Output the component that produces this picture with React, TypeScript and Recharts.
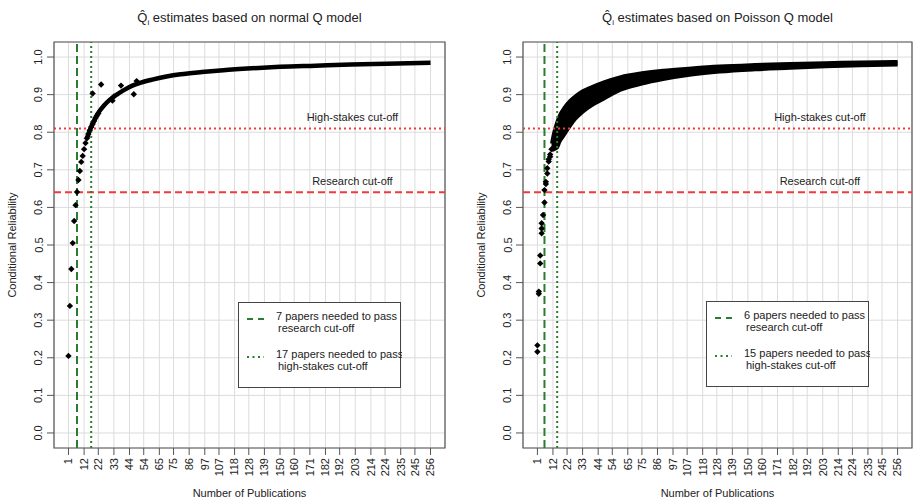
import React from 'react';
import {
  ComposedChart,
  Scatter,
  Line,
  Area,
  XAxis,
  YAxis,
  CartesianGrid,
  ReferenceLine,
  ReferenceArea,
  Legend,
} from 'recharts';

const FONT = '"Liberation Sans", Arial, Helvetica, sans-serif';
const RED = '#f23a3a';
const GREEN = '#2a7d2e';
const INK = '#222';
const FRAME = '#555';

// axes
const pubTicks = [1, 12, 22, 33, 44, 54, 65, 75, 86, 97, 107, 118, 128, 139, 150, 160, 171, 182, 192, 203, 214, 224, 235, 245, 256];
const relTicks = [0, 0.1, 0.2, 0.3, 0.4, 0.5, 0.6, 0.7, 0.8, 0.9, 1.0];
const X_MIN = -9.2;
const X_MAX = 266.2;
const Y_MIN = -0.04;
const Y_MAX = 1.04;

// cut-offs
const researchCut = 0.64;
const highStakesCut = 0.81;

// normal Q model
const normalPtN = [1, 2, 3, 4, 5, 6, 7, 8, 9, 10, 11, 12, 13, 14, 15, 16, 17, 18, 19, 20, 21, 22];
const normalPtQ = [0.205, 0.338, 0.436, 0.505, 0.564, 0.606, 0.641, 0.673, 0.697, 0.721, 0.737, 0.755, 0.771, 0.784, 0.795, 0.805, 0.814, 0.822, 0.83, 0.838, 0.844, 0.85];
const normalLineN = [14, 16, 18, 20, 23, 26, 30, 35, 40, 46, 52, 60, 70, 80, 95, 110, 130, 150, 175, 200, 225, 256];
const normalLineQ = [0.784, 0.805, 0.822, 0.838, 0.857, 0.871, 0.886, 0.9, 0.912, 0.924, 0.932, 0.94, 0.948, 0.954, 0.96, 0.965, 0.97, 0.974, 0.977, 0.98, 0.982, 0.985];
const normalOddN = [18, 24, 31, 32, 33, 38, 47, 49];
const normalOddQ = [0.903, 0.927, 0.888, 0.884, 0.895, 0.924, 0.901, 0.936];
const normalNeeded = [7, 17];

// Poisson Q model
const poissonPtN = [1, 1, 2, 2, 3, 3, 4, 4, 4, 5, 6, 6, 7, 7, 8, 8, 9, 9, 10, 10, 11, 44, 45];
const poissonPtQ = [0.216, 0.233, 0.37, 0.376, 0.451, 0.472, 0.531, 0.544, 0.558, 0.58, 0.613, 0.646, 0.662, 0.668, 0.69, 0.704, 0.722, 0.728, 0.735, 0.741, 0.755, 0.899, 0.903];
const poissonBandN = [11, 12, 13, 15, 17, 20, 24, 28, 33, 40, 48, 60, 75, 90, 110, 130, 155, 180, 205, 230, 256];
const poissonLow = [0.755, 0.752, 0.754, 0.758, 0.775, 0.792, 0.815, 0.835, 0.853, 0.872, 0.888, 0.912, 0.928, 0.94, 0.952, 0.96, 0.966, 0.97, 0.974, 0.977, 0.979];
const poissonHigh = [0.77, 0.79, 0.805, 0.83, 0.848, 0.866, 0.884, 0.897, 0.91, 0.922, 0.934, 0.948, 0.958, 0.965, 0.971, 0.976, 0.98, 0.983, 0.985, 0.987, 0.988];
const poissonNeeded = [6, 15];

const toPts = (ns: number[], qs: number[]) => ns.map((n, i) => ({ n, q: qs[i] }));

const Diamond = (props: any) => {
  const { cx, cy } = props;
  if (cx == null || cy == null) return null;
  const r = 3.2;
  return <polygon points={`${cx},${cy - r} ${cx + r},${cy} ${cx},${cy + r} ${cx - r},${cy}`} fill="#000" />;
};

const XTick = ({ x, y, payload }: any) => (
  <text
    x={x}
    y={y + 1}
    transform={`rotate(-90 ${x} ${y + 1})`}
    textAnchor="end"
    dy="0.35em"
    fontSize={11}
    fontFamily={FONT}
    fill={INK}
  >
    {payload.value}
  </text>
);

const YTick = ({ x, y, payload }: any) => (
  <text
    x={x - 2.5}
    y={y}
    transform={`rotate(-90 ${x - 2.5} ${y})`}
    textAnchor="middle"
    fontSize={11}
    fontFamily={FONT}
    fill={INK}
  >
    {Number(payload.value).toFixed(1)}
  </text>
);

const XLabel = ({ viewBox }: any) => (
  <text x={viewBox.x + viewBox.width / 2} y={viewBox.y + 49} textAnchor="middle" fontSize={11} fontFamily={FONT} fill={INK}>
    Number of Publications
  </text>
);

const YLabel = ({ viewBox }: any) => {
  const x = viewBox.x + viewBox.width - 38;
  const y = viewBox.y + viewBox.height / 2;
  return (
    <text x={x} y={y} transform={`rotate(-90 ${x} ${y})`} textAnchor="middle" fontSize={11} fontFamily={FONT} fill={INK}>
      Conditional Reliability
    </text>
  );
};

// cut-off text sits centred at n = 201, a little above its line
const CutLabel = ({ viewBox, text }: any) => {
  const x = viewBox.x + (viewBox.width * (201 - X_MIN)) / (X_MAX - X_MIN);
  return (
    <text x={x} y={viewBox.y - 7} textAnchor="middle" fontSize={11} fontFamily={FONT} fill={INK}>
      {text}
    </text>
  );
};

const LegendBox = ({ needed }: { needed: number[] }) => (
  <svg width={164} height={87} style={{ display: 'block' }}>
    <rect x={0.5} y={0.5} width={162} height={85} fill="#fff" stroke="#444" />
    <line x1={9} x2={26} y1={17} y2={17} stroke={GREEN} strokeWidth={2} strokeDasharray="6 5" />
    <line x1={9} x2={26} y1={55} y2={55} stroke={GREEN} strokeWidth={2} strokeDasharray="2 3.5" />
    <g fontSize={11} fontFamily={FONT} fill={INK}>
      <text x={38} y={18}>{needed[0]} papers needed to pass</text>
      <text x={40} y={30}>research cut-off</text>
      <text x={38} y={56}>{needed[1]} papers needed to pass</text>
      <text x={40} y={68}>high-stakes cut-off</text>
    </g>
  </svg>
);

const Title = ({ model, left, width }: { model: string; left: number; width: number }) => (
  <div
    style={{
      position: 'absolute',
      left,
      top: 10,
      width,
      textAlign: 'center',
      fontSize: 13,
      lineHeight: '15px',
      color: INK,
      fontFamily: FONT,
      whiteSpace: 'nowrap',
    }}
  >
    {'Q\u0302'}
    <span style={{ fontSize: 8, position: 'relative', top: 3 }}>i</span> estimates based on {model} Q model
  </div>
);

type PanelProps = {
  left: number;
  yAxisWidth: number;
  rightMargin: number;
  model: string;
  points: { n: number; q: number }[];
  line?: { n: number; q: number }[];
  band?: { n: number; range: number[] }[];
  extra?: { n: number; q: number }[];
  needed: number[];
  legendLeft: number;
  legendTop: number;
};

const Panel = (p: PanelProps) => {
  const width = 457;
  const height = 501;
  const plotLeft = p.yAxisWidth;
  const plotWidth = width - p.yAxisWidth - p.rightMargin;
  return (
    <div style={{ position: 'absolute', left: p.left, top: 0, width, height }}>
      <Title model={p.model} left={plotLeft} width={plotWidth} />
      <ComposedChart width={width} height={height} margin={{ top: 42, right: p.rightMargin, bottom: 0, left: 0 }}>
        <CartesianGrid stroke="#dcdcdc" strokeWidth={1} />
        <XAxis
          type="number"
          dataKey="n"
          domain={[X_MIN, X_MAX]}
          ticks={pubTicks}
          interval={0}
          allowDataOverflow
          height={53}
          axisLine={false}
          tickLine={{ stroke: FRAME }}
          tickSize={7}
          tick={<XTick />}
          label={<XLabel />}
        />
        <YAxis
          type="number"
          dataKey="q"
          domain={[Y_MIN, Y_MAX]}
          ticks={relTicks}
          interval={0}
          allowDataOverflow
          width={p.yAxisWidth}
          axisLine={false}
          tickLine={{ stroke: FRAME }}
          tickSize={7}
          tick={<YTick />}
          label={<YLabel />}
        />
        {p.band && (
          <Area
            data={p.band}
            dataKey="range"
            type="monotone"
            fill="#000"
            fillOpacity={1}
            stroke="#000"
            strokeWidth={3}
            isAnimationActive={false}
          />
        )}
        {p.line && (
          <Line
            data={p.line}
            dataKey="q"
            type="monotone"
            stroke="#000"
            strokeWidth={4.5}
            dot={false}
            isAnimationActive={false}
          />
        )}
        <Scatter data={p.points} shape={<Diamond />} isAnimationActive={false} />
        {p.extra && <Scatter data={p.extra} shape={<Diamond />} isAnimationActive={false} />}
        <ReferenceLine y={researchCut} stroke={RED} strokeWidth={2} strokeDasharray="7 4" label={<CutLabel text="Research cut-off" />} />
        <ReferenceLine y={highStakesCut} stroke={RED} strokeWidth={2} strokeDasharray="2 3" label={<CutLabel text="High-stakes cut-off" />} />
        <ReferenceLine x={p.needed[0]} stroke={GREEN} strokeWidth={2} strokeDasharray="8 4" />
        <ReferenceLine x={p.needed[1]} stroke={GREEN} strokeWidth={2} strokeDasharray="2 3" />
        <ReferenceArea x1={X_MIN} x2={X_MAX} y1={Y_MIN} y2={Y_MAX} fill="none" stroke={FRAME} strokeWidth={1.2} ifOverflow="visible" />
        <Legend
          layout="horizontal"
          verticalAlign="middle"
          align="center"
          wrapperStyle={{ left: p.legendLeft, top: p.legendTop, width: 164, height: 87 }}
          content={() => <LegendBox needed={p.needed} />}
        />
      </ComposedChart>
    </div>
  );
};

export default function App() {
  return (
    <div style={{ position: 'fixed', left: 0, top: 0, width: 914, height: 501, background: '#fff', fontFamily: FONT }}>
      <Panel
        left={0}
        yAxisWidth={54}
        rightMargin={12}
        model="normal"
        points={toPts(normalPtN, normalPtQ)}
        line={toPts(normalLineN, normalLineQ)}
        extra={toPts(normalOddN, normalOddQ)}
        needed={normalNeeded}
        legendLeft={238}
        legendTop={302}
      />
      <Panel
        left={457}
        yAxisWidth={66}
        rightMargin={2}
        model="Poisson"
        points={toPts(poissonPtN, poissonPtQ)}
        band={poissonBandN.map((n, i) => ({ n, range: [poissonLow[i], poissonHigh[i]] }))}
        needed={poissonNeeded}
        legendLeft={249}
        legendTop={301}
      />
    </div>
  );
}
